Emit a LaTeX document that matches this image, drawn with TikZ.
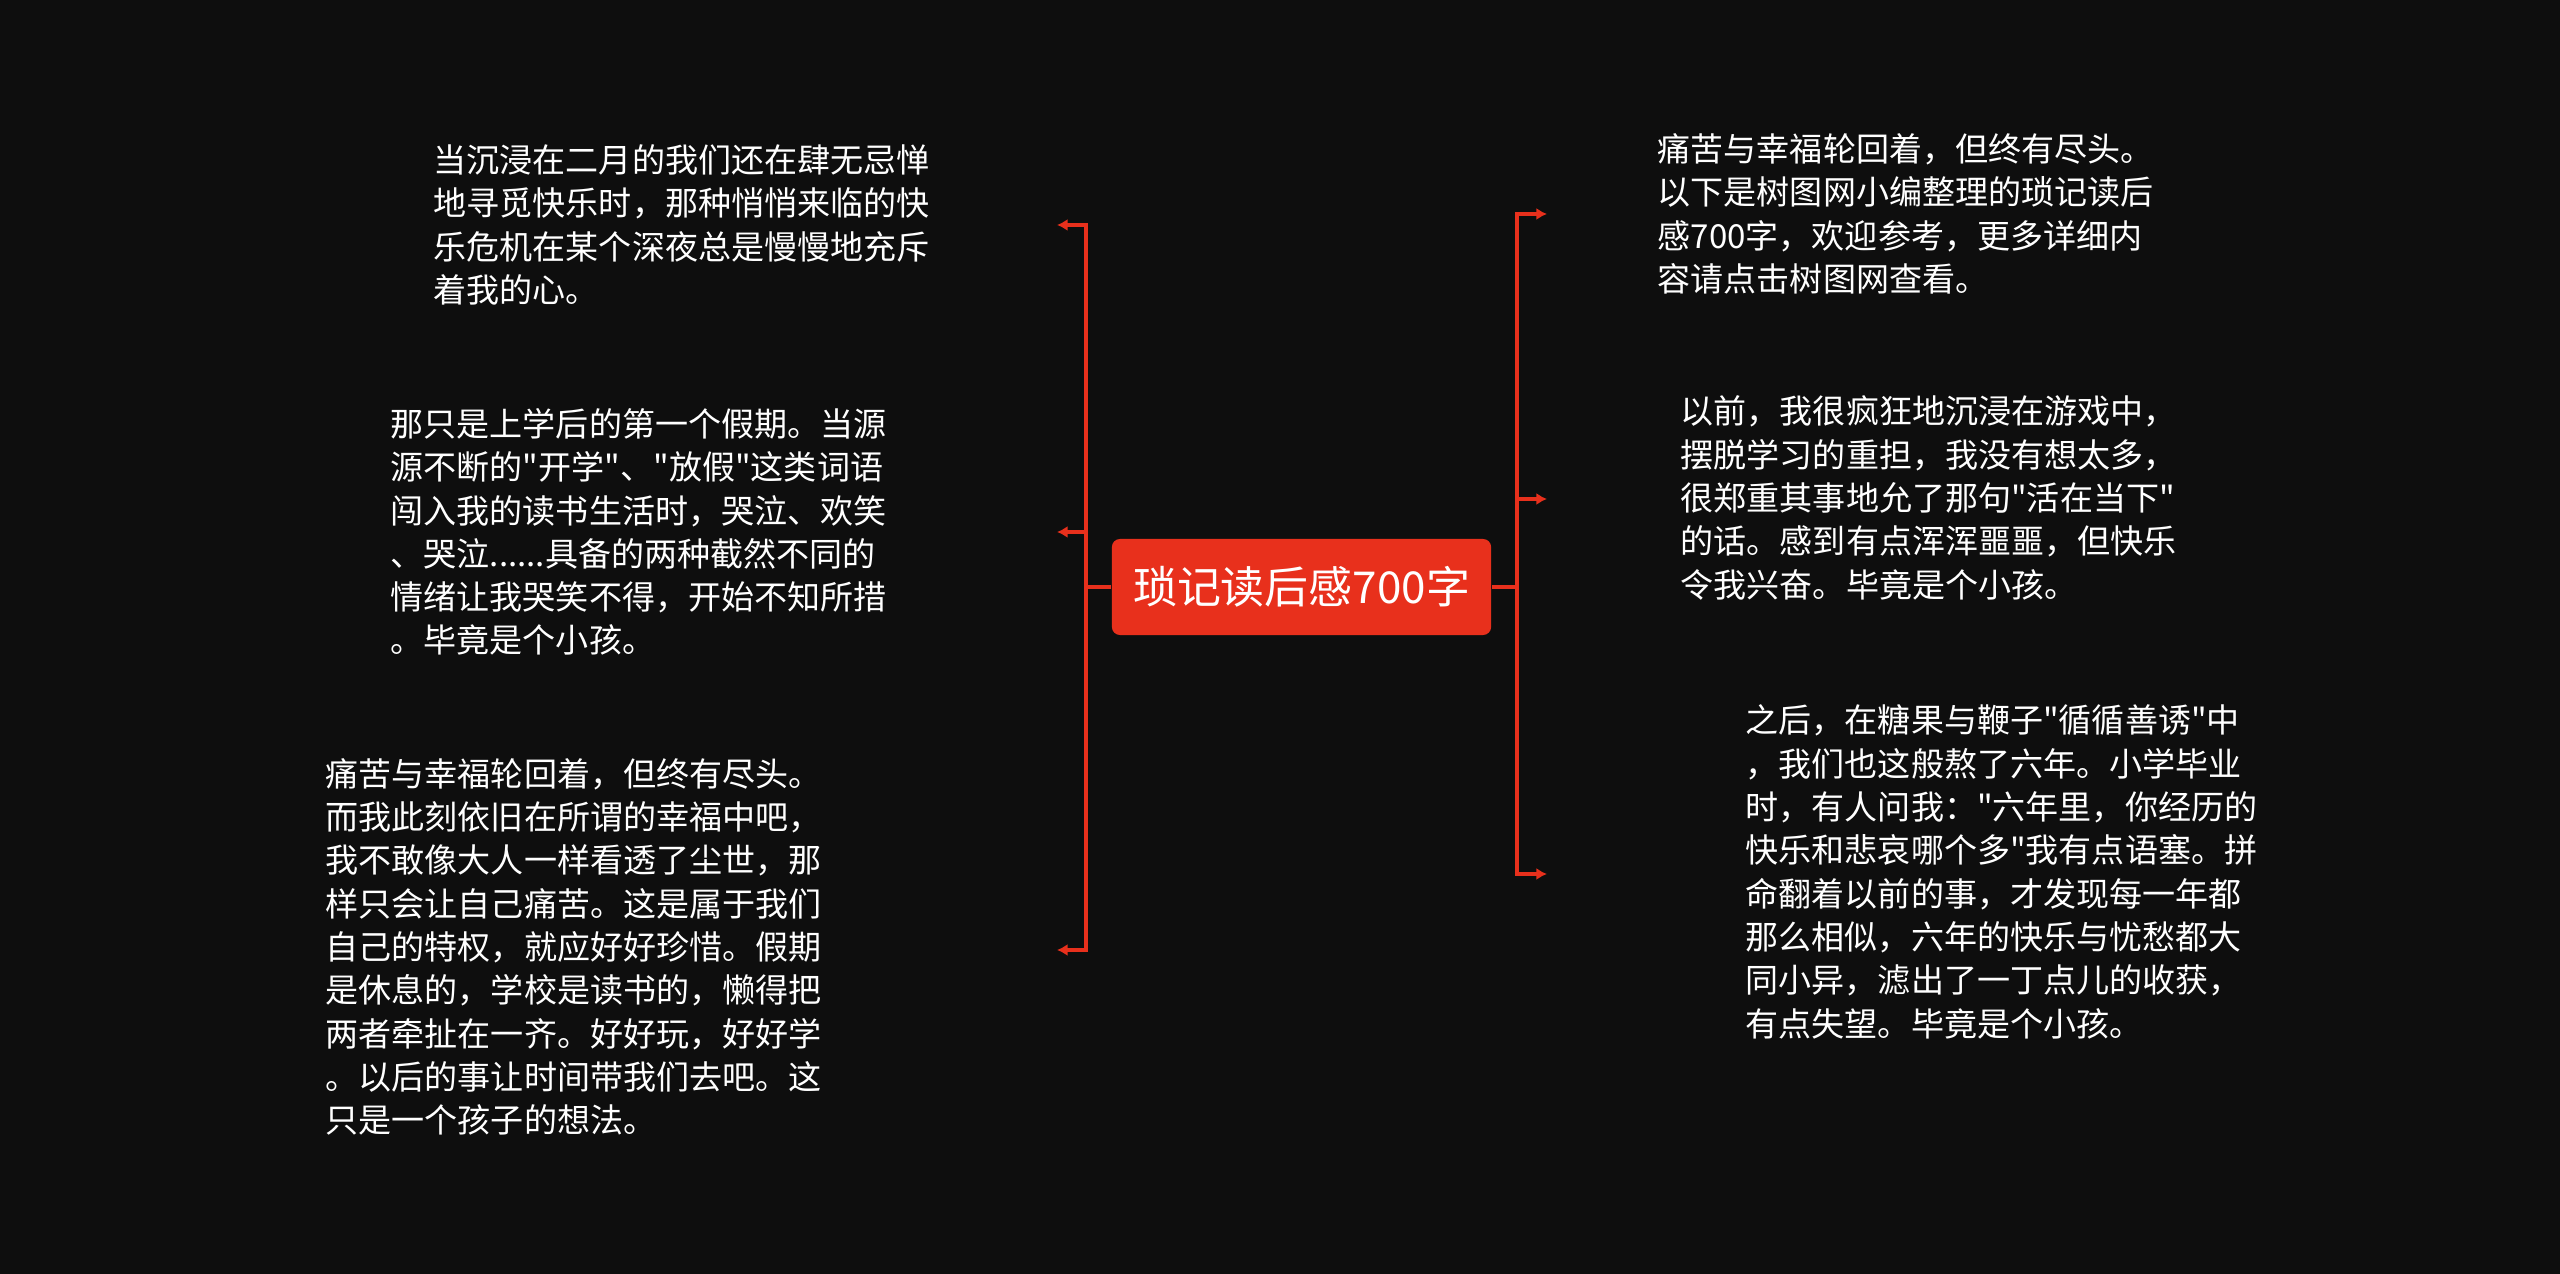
\documentclass[tikz,border=0pt]{standalone}
\usepackage{fontspec}
\usepackage{xcolor}
\usepackage{tikz}
\usetikzlibrary{arrows.meta}
\usetikzlibrary{positioning}
\newfontfamily\cjk{Noto Sans CJK SC}
\definecolor{bgdark}{HTML}{0E0E0E}
\definecolor{mapred}{HTML}{E8301C}

\begin{document}
\begin{tikzpicture}[x=0.01cm,y=-0.01cm,
    leaf/.style={anchor=west,inner sep=0pt,align=left,text=white,
      font=\cjk\fontsize{9.4}{12.32}\selectfont},
    rootbox/.style={fill=mapred,rounded corners=2.3pt,text=white,
      minimum width=3.79cm,minimum height=0.96cm,inner sep=0pt,
      font=\cjk\fontsize{12.5}{14}\selectfont},
    link/.style={draw=mapred,line width=1.1pt,
      -{Latex[length=3pt,width=3.4pt]}}]
      \fill[bgdark] (0,0) rectangle (2560,1274);
      \useasboundingbox (0,0) rectangle (2560,1274);
      %%
      \node[rootbox](root) at (1301.5,587) {琐记读后感700字};
      %%
      \node[leaf](L1) at (433,225) {当沉浸在二月的我们还在肆无忌惮\\地寻觅快乐时，那种悄悄来临的快\\乐危机在某个深夜总是慢慢地充斥\\着我的心。};
      \node[leaf](L2) at (390,532) {那只是上学后的第一个假期。当源\\源不断的"开学"、"放假"这类词语\\闯入我的读书生活时，哭泣、欢笑\\、哭泣......具备的两种截然不同的\\情绪让我哭笑不得，开始不知所措\\。毕竟是个小孩。};
      \node[leaf](L3) at (325,947) {痛苦与幸福轮回着，但终有尽头。\\而我此刻依旧在所谓的幸福中吧，\\我不敢像大人一样看透了尘世，那\\样只会让自己痛苦。这是属于我们\\自己的特权，就应好好珍惜。假期\\是休息的，学校是读书的，懒得把\\两者牵扯在一齐。好好玩，好好学\\。以后的事让时间带我们去吧。这\\只是一个孩子的想法。};
      %%
      \node[leaf](R1) at (1657,214) {痛苦与幸福轮回着，但终有尽头。\\以下是树图网小编整理的琐记读后\\感700字，欢迎参考，更多详细内\\容请点击树图网查看。};
      \node[leaf](R2) at (1680,498) {以前，我很疯狂地沉浸在游戏中，\\摆脱学习的重担，我没有想太多，\\很郑重其事地允了那句"活在当下"\\的话。感到有点浑浑噩噩，但快乐\\令我兴奋。毕竟是个小孩。};
      \node[leaf](R3) at (1745,872) {之后，在糖果与鞭子"循循善诱"中\\，我们也这般熬了六年。小学毕业\\时，有人问我："六年里，你经历的\\快乐和悲哀哪个多"我有点语塞。拼\\命翻着以前的事，才发现每一年都\\那么相似，六年的快乐与忧愁都大\\同小异，滤出了一丁点儿的收获，\\有点失望。毕竟是个小孩。};
      %%
      \coordinate(l1) at (1057,225);
      \coordinate(l2) at (1057,532);
      \coordinate(l3) at (1057,950);
      \coordinate(r1) at (1547,214);
      \coordinate(r2) at (1547,499);
      \coordinate(r3) at (1547,874);
      \foreach \t in {l1,l2,l3}
        \draw[link](root.west) -- ++(-25,0) |- (\t);
      \foreach \t in {r1,r2,r3}
        \draw[link](root.east) -- ++(25,0) |- (\t);
    \end{tikzpicture}
\end{document}
